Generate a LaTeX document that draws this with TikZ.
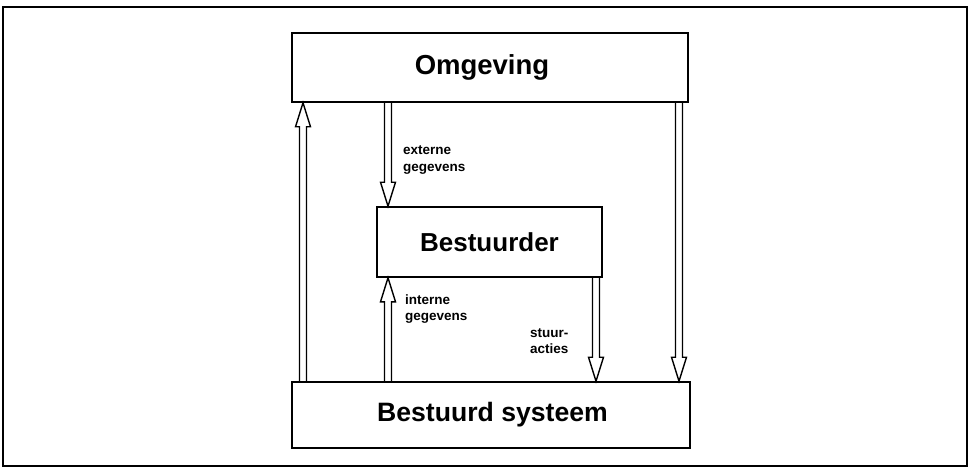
\documentclass[tikz,border=0pt]{standalone}
\usepackage{fontspec}
\setmainfont{Liberation Sans}
\usetikzlibrary{calc}
\begin{document}
\begin{tikzpicture}[x=1pt,y=-1pt,
  box/.style={draw,line width=1.6pt,inner sep=0pt,font=\bfseries\fontsize{26}{30}\selectfont},
  lab/.style={anchor=west,align=left,inner sep=0pt,font=\bfseries\fontsize{13.5}{16.5}\selectfont},
  hollow/.style={line width=1.4pt,line join=miter,
    to path={let \p1=(\tikztostart), \p2=(\tikztotarget) in
      (\x1-3.5pt,\y1) -- (\x1-3.5pt,{\y2-24pt*sign(\y2-\y1)})
      -- (\x1-7.5pt,{\y2-24pt*sign(\y2-\y1)}) -- (\x2,\y2)
      -- (\x1+7.5pt,{\y2-24pt*sign(\y2-\y1)}) -- (\x1+3.5pt,{\y2-24pt*sign(\y2-\y1)})
      -- (\x1+3.5pt,\y1)}}]
\useasboundingbox (0,0) rectangle (969,468);
\draw[line width=1.6pt] (3,7) rectangle (967,466);
\node[box,minimum width=396,minimum height=69] (omg) at (490,67.5) {};
\node[font=\bfseries\fontsize{27.5}{30}\selectfont,inner sep=0pt] (omgt) at (482,67.5) {Omgeving};
\node[box,minimum width=225,minimum height=70] (bes) at (489.5,242) {Bestuurder};
\node[box,minimum width=398,minimum height=66] (sys) at (491,415) {};
\node[font=\bfseries\fontsize{26.6}{30}\selectfont,inner sep=0pt] (syst) at (492.5,415) {Bestuurd systeem};
\coordinate (xL) at (303,0);
\coordinate (xE) at (388,0);
\coordinate (xS) at (596,0);
\coordinate (xR) at (679,0);
\draw[hollow] (sys.north -| xL) to (omg.south -| xL);
\draw[hollow] (omg.south -| xE) to (bes.north -| xE);
\draw[hollow] (sys.north -| xE) to (bes.south -| xE);
\draw[hollow] (bes.south -| xS) to (sys.north -| xS);
\draw[hollow] (omg.south -| xR) to (sys.north -| xR);
\node[lab] (le) at (403,160) {externe\\gegevens};
\node[lab] (li) at (405,309) {interne\\gegevens};
\node[lab] (ls) at (530,341) {stuur-\\acties};
\end{tikzpicture}
\end{document}
